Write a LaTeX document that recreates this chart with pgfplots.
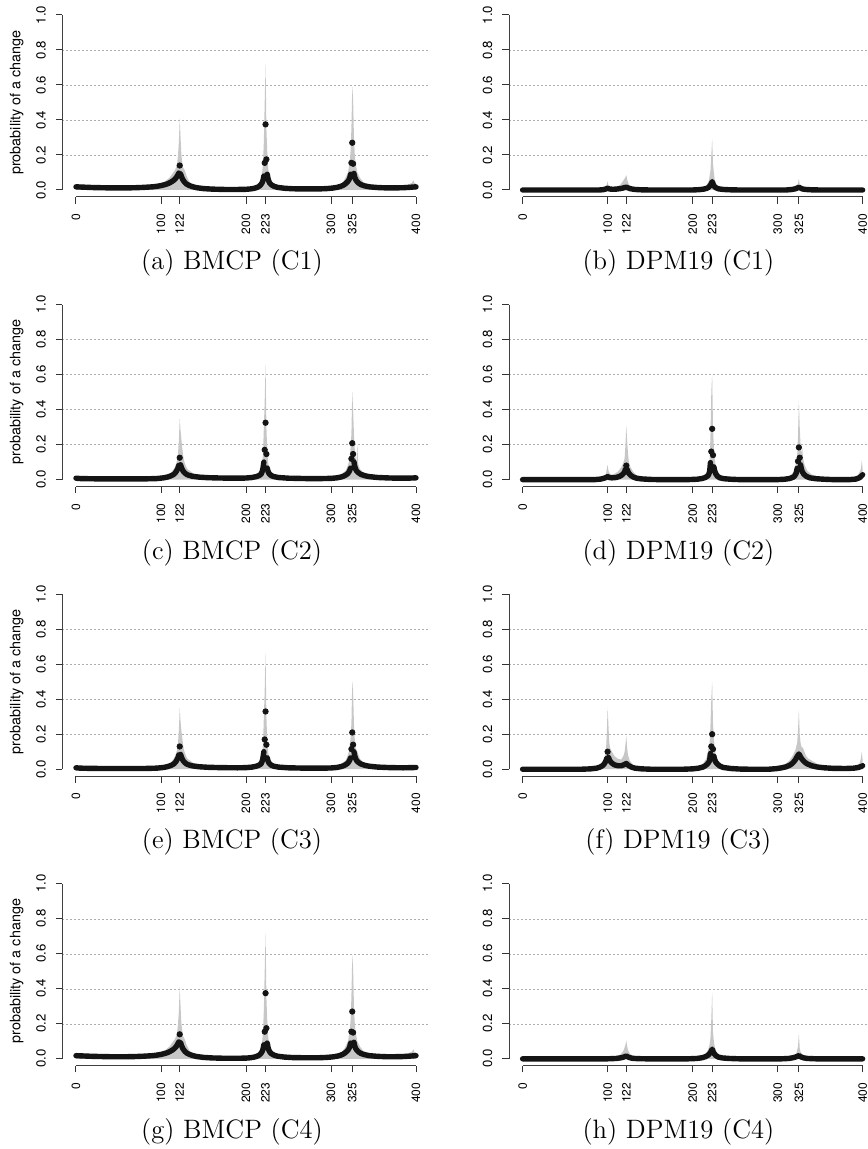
\documentclass[border=0pt]{standalone}
\usepackage{fontspec}
\usepackage{pgfplots}
\usepackage{pgfplotstable}
\pgfplotsset{compat=1.18}
\newfontfamily\hv{TeX Gyre Heros}

% ---------------- Panel A / G : BMCP (C1), BMCP (C4)
\pgfplotstableread{
x y
0 0.03
3 0.032
8 0.028
20 0.025
40 0.022
60 0.022
80 0.025
95 0.03
100 0.04
105 0.05
110 0.07
113 0.09
116 0.11
118 0.13
119 0.15
120 0.2
121 0.27
122 0.41
123 0.3
124 0.2
125 0.16
126 0.13
128 0.11
130 0.08
133 0.05
137 0.03
145 0.02
160 0.012
190 0.01
205 0.012
212 0.02
216 0.04
218 0.07
219 0.1
220 0.15
221 0.28
222 0.5
223 0.72
224 0.35
225 0.22
226 0.13
227 0.09
229 0.06
232 0.04
238 0.025
250 0.015
280 0.012
300 0.015
308 0.025
313 0.04
316 0.06
318 0.08
320 0.1
321 0.13
322 0.16
323 0.22
324 0.35
325 0.59
326 0.52
327 0.3
328 0.2
329 0.15
331 0.1
334 0.07
338 0.045
345 0.03
360 0.025
380 0.025
390 0.03
395 0.04
397 0.055
398 0.04
400 0.035
}\grA
\pgfplotstableread{
x y
0 0.018
5 0.017
10 0.016
20 0.014
30 0.013
40 0.012
60 0.012
70 0.013
80 0.015
90 0.018
95 0.021
100 0.025
105 0.031
108 0.036
111 0.043
114 0.052
116 0.06
118 0.071
119 0.079
120 0.088
121 0.097
122 nan
123 0.092
124 0.078
125 0.066
126 0.056
128 0.043
130 0.034
133 0.026
137 0.019
142 0.013
150 0.008
160 0.005
175 0.003
190 0.003
200 0.004
205 0.006
209 0.009
212 0.013
214 0.017
216 0.023
217 0.028
218 0.034
219 0.042
220 0.055
221 0.08
222 nan
225 0.09
226 0.063
227 0.048
228 0.039
230 0.029
233 0.021
237 0.015
245 0.01
255 0.007
270 0.006
285 0.006
295 0.008
302 0.011
307 0.015
311 0.02
314 0.026
316 0.032
318 0.04
320 0.05
321 0.058
322 0.068
323 0.09
324 nan
327 0.095
328 0.072
329 0.06
330 0.052
332 0.041
335 0.031
339 0.024
345 0.018
355 0.014
365 0.012
375 0.012
385 0.013
392 0.015
397 0.017
400 0.018
}\blA
\pgfplotstableread{
x y
122 0.14
222 0.155
223 0.375
224 0.175
324 0.155
325 0.27
326 0.15
}\dtA

% ---------------- Panel B : DPM19 (C1)
\pgfplotstableread{
x y
0 0.003
90 0.004
97 0.01
99 0.03
100 0.05
101 0.02
104 0.012
110 0.015
115 0.03
118 0.05
120 0.065
121 0.075
122 0.085
123 0.06
125 0.03
128 0.015
135 0.008
150 0.005
205 0.006
212 0.012
216 0.025
219 0.05
220 0.08
221 0.11
222 0.2
223 0.29
224 0.15
225 0.1
226 0.06
228 0.03
232 0.015
240 0.008
260 0.005
315 0.006
320 0.012
323 0.025
324 0.04
325 0.065
326 0.03
328 0.015
333 0.008
345 0.005
400 0.003
}\grB
\pgfplotstableread{
x y
0 0
90 0
95 0.002
98 0.006
100 0.01
102 0.006
106 0.004
110 0.005
115 0.008
118 0.011
120 0.014
122 0.016
124 0.012
127 0.007
132 0.003
140 0.001
150 0
200 0
208 0.002
213 0.005
217 0.01
219 0.016
221 0.028
222 0.036
223 0.048
224 0.035
225 0.024
227 0.014
230 0.007
236 0.003
245 0.001
255 0
310 0
317 0.003
321 0.007
323 0.011
325 0.016
327 0.011
329 0.006
333 0.003
340 0.001
350 0
400 0
}\blB

% ---------------- Panel C : BMCP (C2)
\pgfplotstableread{
x y
0 0.012
10 0.01
50 0.009
90 0.01
100 0.015
107 0.025
112 0.04
115 0.06
117 0.08
119 0.11
120 0.15
121 0.22
122 0.35
123 0.28
124 0.23
125 0.18
126 0.14
127 0.11
129 0.08
131 0.06
134 0.05
138 0.035
145 0.025
160 0.018
190 0.015
205 0.02
212 0.03
216 0.05
218 0.07
219 0.1
220 0.14
221 0.3
222 0.45
223 0.66
224 0.3
225 0.16
226 0.1
227 0.07
229 0.05
233 0.03
240 0.02
260 0.012
300 0.012
308 0.02
313 0.035
317 0.05
319 0.07
321 0.1
322 0.13
323 0.18
324 0.26
325 0.5
326 0.4
327 0.26
328 0.17
329 0.12
330 0.1
331 0.2
332 0.09
334 0.06
338 0.04
345 0.025
360 0.016
390 0.012
400 0.015
}\grC
\pgfplotstableread{
x y
0 0.008
5 0.006
15 0.005
30 0.004
80 0.004
95 0.006
103 0.01
108 0.015
112 0.022
115 0.03
117 0.04
118 0.047
119 0.056
120 0.066
121 0.082
122 nan
123 0.085
124 0.07
125 0.058
126 0.049
128 0.038
130 0.03
133 0.024
137 0.019
145 0.014
155 0.011
170 0.009
190 0.008
200 0.009
207 0.012
212 0.017
215 0.022
217 0.028
218 0.033
219 0.045
220 0.065
221 0.1
222 nan
225 0.066
226 0.045
227 0.035
229 0.025
232 0.018
238 0.012
250 0.008
270 0.006
290 0.006
300 0.007
307 0.01
312 0.015
315 0.02
318 0.028
320 0.036
321 0.043
322 0.052
323 0.066
324 nan
327 0.102
328 0.075
329 0.06
330 0.05
332 0.04
335 0.03
340 0.022
345 0.017
355 0.012
370 0.009
385 0.008
395 0.009
400 0.01
}\blC
\pgfplotstableread{
x y
122 0.125
222 0.17
223 0.325
224 0.146
324 0.119
325 0.208
326 0.146
}\dtC

% ---------------- Panel D : DPM19 (C2)
\pgfplotstableread{
x y
0 0.003
85 0.004
95 0.01
98 0.03
99 0.06
100 0.085
101 0.05
103 0.03
107 0.03
112 0.045
116 0.07
118 0.09
120 0.12
121 0.2
122 0.31
123 0.22
124 0.15
125 0.1
127 0.07
130 0.045
134 0.025
140 0.012
155 0.005
200 0.006
210 0.015
215 0.03
218 0.06
220 0.1
221 0.25
222 0.5
223 0.6
224 0.3
225 0.18
226 0.12
227 0.08
229 0.05
233 0.025
240 0.01
260 0.004
300 0.005
310 0.012
315 0.025
318 0.04
320 0.06
322 0.1
323 0.14
324 0.25
325 0.45
326 0.3
327 0.2
328 0.15
329 0.18
330 0.12
332 0.08
335 0.05
340 0.03
350 0.015
370 0.008
390 0.01
395 0.03
398 0.06
399 0.11
400 0.06
}\grD
\pgfplotstableread{
x y
0 0
85 0
92 0.003
96 0.008
98 0.012
100 0.017
102 0.012
105 0.01
110 0.012
114 0.018
117 0.027
119 0.037
120 0.045
121 0.06
122 nan
123 0.058
124 0.045
125 0.036
127 0.025
130 0.015
134 0.008
140 0.004
150 0.001
160 0
195 0
205 0.002
211 0.006
215 0.012
218 0.022
219 0.03
220 0.045
221 0.097
222 nan
225 0.073
226 0.05
227 0.035
229 0.02
232 0.01
237 0.005
245 0.002
255 0
300 0
308 0.002
314 0.006
318 0.013
320 0.02
322 0.038
323 0.065
324 nan
327 0.085
328 0.06
329 0.045
331 0.03
334 0.018
338 0.01
345 0.005
355 0.002
365 0
385 0
392 0.003
396 0.01
398 0.018
400 0.028
}\blD
\pgfplotstableread{
x y
122 0.08
222 0.16
223 0.29
224 0.14
324 0.105
325 0.184
326 0.125
}\dtD

% ---------------- Panel E : BMCP (C3)
\pgfplotstableread{
x y
0 0.012
10 0.01
50 0.009
90 0.01
100 0.015
107 0.025
112 0.04
115 0.06
117 0.08
119 0.11
120 0.15
121 0.22
122 0.35
123 0.27
124 0.22
125 0.18
126 0.14
127 0.11
129 0.08
131 0.06
134 0.05
138 0.035
145 0.025
160 0.018
190 0.015
205 0.02
212 0.03
216 0.05
218 0.07
219 0.1
220 0.14
221 0.3
222 0.45
223 0.665
224 0.3
225 0.16
226 0.1
227 0.07
229 0.05
233 0.03
240 0.02
260 0.012
300 0.012
308 0.02
313 0.035
317 0.05
319 0.07
321 0.1
322 0.13
323 0.18
324 0.26
325 0.5
326 0.44
327 0.26
328 0.17
329 0.12
331 0.1
334 0.06
338 0.04
345 0.025
360 0.016
390 0.012
400 0.015
}\grE
\pgfplotstableread{
x y
0 0.008
5 0.006
15 0.005
30 0.004
80 0.004
95 0.006
103 0.01
108 0.015
112 0.022
115 0.03
117 0.04
118 0.047
119 0.056
120 0.066
121 0.082
122 nan
123 0.085
124 0.07
125 0.058
126 0.049
128 0.038
130 0.03
133 0.024
137 0.019
145 0.014
155 0.011
170 0.009
190 0.008
200 0.009
207 0.012
212 0.017
215 0.022
217 0.028
218 0.033
219 0.045
220 0.065
221 0.1
222 nan
225 0.065
226 0.045
227 0.035
229 0.025
232 0.018
238 0.012
250 0.008
270 0.006
290 0.006
300 0.007
307 0.01
312 0.015
315 0.02
318 0.028
320 0.036
321 0.043
322 0.052
323 0.065
324 nan
327 0.1
328 0.075
329 0.06
330 0.05
332 0.04
335 0.03
340 0.022
345 0.017
355 0.012
370 0.009
385 0.008
395 0.009
400 0.01
}\blE
\pgfplotstableread{
x y
122 0.13
222 0.17
223 0.33
224 0.14
324 0.115
325 0.21
326 0.14
}\dtE

% ---------------- Panel F : DPM19 (C3)
\pgfplotstableread{
x y
0 0.003
80 0.005
88 0.012
93 0.03
96 0.06
98 0.1
99 0.2
100 0.35
101 0.25
102 0.15
103 0.12
105 0.1
108 0.075
112 0.06
116 0.055
119 0.08
120 0.1
121 0.14
122 0.19
123 0.12
124 0.08
126 0.05
130 0.025
137 0.01
150 0.004
195 0.005
205 0.012
212 0.03
216 0.06
218 0.1
220 0.15
221 0.25
222 0.4
223 0.5
224 0.26
225 0.18
226 0.12
227 0.08
230 0.05
234 0.03
240 0.015
255 0.005
290 0.005
300 0.01
308 0.025
314 0.05
318 0.08
321 0.11
323 0.15
324 0.22
325 0.34
326 0.2
327 0.15
328 0.13
330 0.12
333 0.08
336 0.06
340 0.05
345 0.035
350 0.02
365 0.01
390 0.012
396 0.03
398 0.06
399 0.1
400 0.05
}\grF
\pgfplotstableread{
x y
0 0
70 0
80 0.002
87 0.006
91 0.012
94 0.02
96 0.03
97 0.038
98 0.048
99 0.062
100 nan
101 0.068
102 0.055
103 0.046
105 0.035
108 0.025
112 0.02
116 0.02
119 0.025
121 0.03
122 0.033
123 0.028
125 0.02
128 0.012
132 0.006
140 0.002
150 0
190 0
200 0.002
207 0.006
212 0.012
215 0.02
217 0.028
219 0.04
220 0.05
221 0.09
222 nan
225 0.075
226 0.055
227 0.042
229 0.03
232 0.018
236 0.01
245 0.004
255 0.001
265 0
290 0
298 0.003
305 0.008
310 0.014
314 0.022
317 0.032
319 0.042
321 0.055
322 0.064
323 0.072
324 0.08
325 0.087
326 0.08
327 0.07
328 0.062
330 0.05
332 0.04
335 0.03
340 0.02
346 0.013
355 0.008
365 0.005
380 0.004
390 0.006
395 0.01
398 0.015
400 0.02
}\blF
\pgfplotstableread{
x y
100 0.1
222 0.13
223 0.2
224 0.115
}\dtF

% ---------------- Panel H : DPM19 (C4)
\pgfplotstableread{
x y
0 0.003
100 0.005
108 0.01
114 0.02
117 0.035
119 0.05
120 0.065
121 0.08
122 0.105
123 0.07
124 0.05
126 0.03
130 0.015
140 0.006
200 0.005
210 0.012
215 0.025
218 0.05
220 0.08
221 0.12
222 0.23
223 0.38
224 0.15
225 0.1
226 0.07
228 0.04
232 0.02
240 0.008
260 0.004
315 0.006
320 0.015
322 0.03
323 0.05
324 0.07
325 0.145
326 0.06
327 0.04
329 0.025
333 0.012
345 0.005
400 0.003
}\grH
\pgfplotstableread{
x y
0 0
100 0
110 0.002
116 0.006
119 0.01
121 0.014
122 0.017
123 0.013
125 0.008
129 0.003
135 0.001
145 0
195 0
205 0.002
211 0.006
215 0.012
218 0.02
220 0.03
221 0.037
222 0.045
223 0.055
224 0.042
225 0.032
227 0.02
230 0.01
235 0.005
243 0.002
255 0
305 0
313 0.002
318 0.006
321 0.01
323 0.014
325 0.018
327 0.012
330 0.006
335 0.002
345 0
400 0
}\blH

\pgfplotsset{
  panel/.style={
    scale only axis, width=183.6pt, height=94.5pt,
    xmin=-16, xmax=416, ymin=-0.04, ymax=1.04,
    axis x line*=bottom, axis y line*=left, axis line style={draw=none},
    clip=false, unbounded coords=jump,
    /pgf/number format/assume math mode=true,
    xtick={0,100,122,200,223,300,325,400},
    xticklabels={0,100,122,200,223,300,325,400},
    ytick={0,0.2,0.4,0.6,0.8,1},
    yticklabels={0.0,0.2,0.4,0.6,0.8,1.0},
    tick align=outside, major tick length=3.3pt,
    tick style={black!80, line width=0.5pt},
    xticklabel style={font=\hv\fontsize{6}{7}\selectfont, yshift=-5pt, rotate=90, anchor=east, inner sep=0pt},
    yticklabel style={font=\hv\fontsize{6.6}{7}\selectfont, xshift=-4.8pt, rotate=90, anchor=south, inner sep=0pt},
    extra y ticks={0.2,0.4,0.6,0.8}, extra y tick labels={},
    extra y tick style={grid=major, major tick length=0pt},
    major grid style={black!32, line width=0.3pt, dash pattern=on 1pt off 1pt},
    extra description/.code={
      \draw[black!75, line width=0.5pt] (axis description cs:0.037037,0) -- (axis description cs:0.962963,0);
      \draw[black!75, line width=0.5pt] (axis description cs:0,0.037037) -- (axis description cs:0,0.962963);
    },
  },
  leftpanel/.style={panel,
    ylabel={probability of a change},
    ylabel style={font=\hv\fontsize{7.2}{8}\selectfont, at={(axis description cs:-0.1245,0.5)}, anchor=center},
  },
  gr/.style={fill=black!22, draw=none},
  bl/.style={black!92, line width=2.7pt, line cap=round, line join=round},
  dt/.style={only marks, mark=*, mark size=1.35pt, black!92},
}

\begin{document}
\begin{tikzpicture}
\useasboundingbox (0,0) rectangle (433.5pt,-574.5pt);

% Row 1
\begin{axis}[leftpanel, at={(31.2pt,-98.5pt)}, anchor=south west]
\addplot[gr] table {\grA} \closedcycle;
\addplot[bl] table {\blA};
\addplot[dt] table {\dtA};
\end{axis}
\begin{axis}[panel, at={(254.5pt,-98.5pt)}, anchor=south west]
\addplot[gr] table {\grB} \closedcycle;
\addplot[bl] table {\blB};
\end{axis}

% Row 2
\begin{axis}[leftpanel, at={(31.2pt,-243.3pt)}, anchor=south west]
\addplot[gr] table {\grC} \closedcycle;
\addplot[bl] table {\blC};
\addplot[dt] table {\dtC};
\end{axis}
\begin{axis}[panel, at={(254.5pt,-243.3pt)}, anchor=south west]
\addplot[gr] table {\grD} \closedcycle;
\addplot[bl] table {\blD};
\addplot[dt] table {\dtD};
\end{axis}

% Row 3
\begin{axis}[leftpanel, at={(31.2pt,-388.1pt)}, anchor=south west]
\addplot[gr] table {\grE} \closedcycle;
\addplot[bl] table {\blE};
\addplot[dt] table {\dtE};
\end{axis}
\begin{axis}[panel, at={(254.5pt,-388.1pt)}, anchor=south west]
\addplot[gr] table {\grF} \closedcycle;
\addplot[bl] table {\blF};
\addplot[dt] table {\dtF};
\end{axis}

% Row 4
\begin{axis}[leftpanel, at={(31.2pt,-532.9pt)}, anchor=south west]
\addplot[gr] table {\grA} \closedcycle;
\addplot[bl] table {\blA};
\addplot[dt] table {\dtA};
\end{axis}
\begin{axis}[panel, at={(254.5pt,-532.9pt)}, anchor=south west]
\addplot[gr] table {\grH} \closedcycle;
\addplot[bl] table {\blH};
\end{axis}

% captions
\begin{scope}[every node/.style={font=\fontsize{13.3}{16}\selectfont, anchor=center, inner sep=0pt}]
\node at (116pt,-131.5pt) {(a) BMCP (C1)};
\node at (339.2pt,-131.5pt) {(b) DPM19 (C1)};
\node at (116pt,-276.3pt) {(c) BMCP (C2)};
\node at (339.2pt,-276.3pt) {(d) DPM19 (C2)};
\node at (116pt,-421.1pt) {(e) BMCP (C3)};
\node at (339.2pt,-421.1pt) {(f) DPM19 (C3)};
\node at (116pt,-565.9pt) {(g) BMCP (C4)};
\node at (339.2pt,-565.9pt) {(h) DPM19 (C4)};
\end{scope}
\end{tikzpicture}
\end{document}
